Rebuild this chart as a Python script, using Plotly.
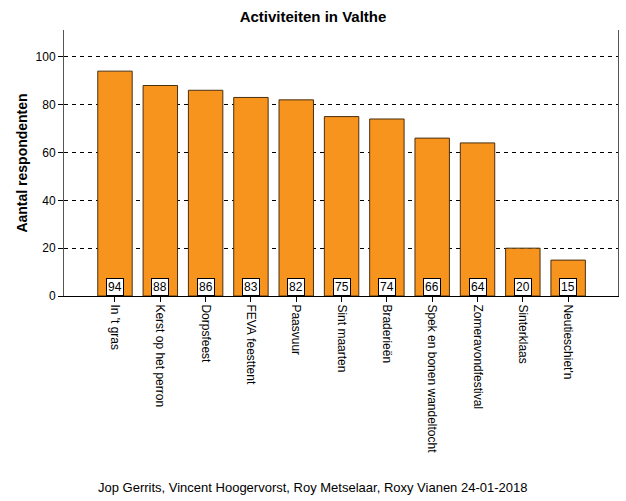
import plotly.graph_objects as go

categories = ["In 't gras", "Kerst op het perron", "Dorpsfeest", "FEVA feesttent", "Paasvuur",
              "Sint maarten", "Braderieën", "Spek en bonen wandeltocht", "Zomeravondfestival",
              "Sinterklaas", "Neutieschiet'n"]
values = [94, 88, 86, 83, 82, 75, 74, 66, 64, 20, 15]
y_ticks = [0, 20, 40, 60, 80, 100]

FONT = "Liberation Sans, Arial, sans-serif"

fig = go.Figure()
fig.add_trace(go.Bar(
    x=list(range(len(categories))), y=values,
    width=0.76,
    marker=dict(color="#F7941D", line=dict(color="#4a3010", width=1)),
    hoverinfo="skip",
))

for i, v in enumerate(values):
    fig.add_annotation(x=i, y=0, yanchor="bottom", text=str(v), showarrow=False,
                       font=dict(family=FONT, size=12, color="black"),
                       bgcolor="white", bordercolor="black", borderwidth=1, borderpad=1)

fig.update_layout(
    width=626, height=501,
    margin=dict(l=64, r=8, t=30, b=205),
    paper_bgcolor="white", plot_bgcolor="white",
    showlegend=False,
    title=dict(text="<b>Activiteiten in Valthe</b>", x=0.5, xanchor="center",
               y=1 - 17 / 501, yanchor="middle",
               font=dict(family=FONT, size=15, color="black")),
    font=dict(family=FONT, size=12, color="black"),
)

fig.update_xaxes(
    tickmode="array", tickvals=list(range(len(categories))),
    ticktext=[c.replace(" ", "\u00a0") for c in categories],
    tickangle=90, range=[-1.125, 11.1], automargin=False,
    ticks="outside", ticklen=5, tickcolor="black",
    showline=True, linecolor="black", linewidth=1, mirror=False,
    showgrid=False, zeroline=False,
    tickfont=dict(family=FONT, size=12, color="black"),
)
fig.update_yaxes(
    range=[0, 111.2], tickmode="array", tickvals=y_ticks, automargin=False,
    ticks="outside", ticklen=5, tickcolor="black",
    showline=True, linecolor="#555555", linewidth=1, mirror=True,
    showgrid=True, gridcolor="black", griddash="4px,4px", gridwidth=1,
    zeroline=False,
    title=dict(text="<b>Aantal respondenten</b>", font=dict(family=FONT, size=14, color="black"),
               standoff=4),
    tickfont=dict(family=FONT, size=12, color="black"),
)

fig.add_annotation(xref="paper", yref="paper", x=(312 - 64) / 554, y=-(487 - 296) / 266,
                   yanchor="middle", xanchor="center", showarrow=False,
                   text="Jop Gerrits, Vincent Hoogervorst, Roy Metselaar, Roxy Vianen 24-01-2018",
                   font=dict(family=FONT, size=13, color="black"))

fig.write_html("out.html", config={"displayModeBar": False},
               post_script="document.body.style.margin='0';")
